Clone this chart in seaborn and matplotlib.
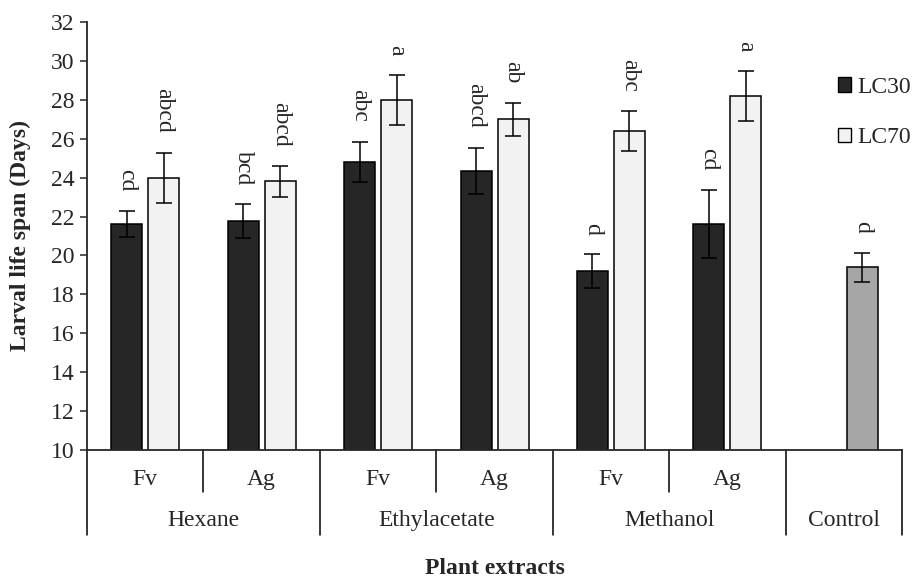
import matplotlib.pyplot as plt
import pandas as pd
import seaborn as sns
from matplotlib.patches import Patch

# Data
solvents = ['Hexane', 'Ethylacetate', 'Methanol']
plants = ['Fv', 'Ag']
lc30 = [21.6, 21.75, 24.8, 24.35, 19.2, 21.6]
lc30_err = [0.67, 0.87, 1.05, 1.19, 0.87, 1.75]
lc30_letters = ['cd', 'bcd', 'abc', 'abcd', 'd', 'cd']
lc70 = [24.0, 23.8, 28.0, 27.0, 26.4, 28.2]
lc70_err = [1.29, 0.79, 1.29, 0.84, 1.03, 1.28]
lc70_letters = ['abcd', 'abcd', 'a', 'ab', 'abc', 'a']
control = 19.4
control_err = 0.75
control_letter = 'd'

sns.set_style('ticks')
plt.rcParams.update({
    'font.family': 'Liberation Serif',
    'font.size': 17,
    'axes.linewidth': 1.3,
})

# Build long table
rows = []
cats = []
for s in solvents:
    for p in plants:
        cats.append(f'{s}|{p}')
i = 0
for c in cats:
    rows.append({'cat': c, 'series': 'LC30', 'value': lc30[i], 'err': lc30_err[i], 'lab': lc30_letters[i]})
    rows.append({'cat': c, 'series': 'LC70', 'value': lc70[i], 'err': lc70_err[i], 'lab': lc70_letters[i]})
    i += 1
cats.append('Control|')
rows.append({'cat': 'Control|', 'series': 'LC70', 'value': control, 'err': control_err, 'lab': control_letter})
df = pd.DataFrame(rows)

colors = {'LC30': '#262626', 'LC70': '#f2f2f2'}

fig = plt.figure(figsize=(9.14, 5.78), dpi=100)
ax = fig.add_axes([0.0952, 0.2215, 0.8917, 0.7405])

sns.barplot(data=df, x='cat', y='value', hue='series', order=cats,
            hue_order=['LC30', 'LC70'], palette=colors, width=0.636, gap=0.163,
            edgecolor='black', linewidth=1.1, errorbar=None, legend=False, ax=ax)

# error bars and letters, matched to the drawn bars
for patch in ax.patches:
    h = patch.get_height()
    if h <= 0:
        continue
    xc = patch.get_x() + patch.get_width() / 2
    ci = int(round(xc))
    series = 'LC30' if xc < ci else 'LC70'
    sel = df[(df['cat'] == cats[ci]) & (df['series'] == series)]
    if sel.empty:
        continue
    r = sel.iloc[0]
    if cats[ci].startswith('Control'):
        patch.set_facecolor('#a6a6a6')
    ax.errorbar(xc, r['value'], yerr=r['err'], fmt='none', ecolor='black',
                elinewidth=1.1, capsize=6, capthick=1.1)
    ax.annotate(r['lab'], (xc, r['value'] + r['err']), xytext=(0, 14),
                textcoords='offset points', rotation=270, ha='center', va='bottom')

ax.set_ylim(10, 32)
ax.set_yticks(range(10, 33, 2))
ax.set_xlim(-0.5, len(cats) - 0.5)
ax.set_xticks([])
ax.set_xlabel('')
ax.set_ylabel('')
sns.despine(ax=ax)
ax.tick_params(axis='y', length=5, width=1.1, pad=4)

# multi-level category axis
tr = ax.get_xaxis_transform()
lw = 1.1
for k, c in enumerate(cats):
    s, p = c.split('|')
    if p:
        ax.text(k, -0.068, p, transform=tr, ha='center', va='center')
for k in range(len(cats) + 1):
    x = k - 0.5
    tall = (k % 2 == 0) or k >= len(cats) - 1
    ax.plot([x, x], [0, -0.199 if tall else -0.098], transform=tr,
            color='black', lw=lw, clip_on=False)
for j, s in enumerate(solvents):
    ax.text(2 * j + 0.5, -0.164, s, transform=tr, ha='center', va='center')
ax.text(len(cats) - 1, -0.164, 'Control', transform=tr, ha='center', va='center')

ax.text(0.5, -0.276, 'Plant extracts', transform=ax.transAxes, ha='center',
        va='center', fontweight='bold')
ax.text(-0.082, 0.5, 'Larval life span (Days)', transform=ax.transAxes,
        rotation=90, ha='center', va='center', fontweight='bold')

handles = [Patch(facecolor=colors['LC30'], edgecolor='black', linewidth=1.0, label='LC30'),
           Patch(facecolor=colors['LC70'], edgecolor='black', linewidth=1.0, label='LC70')]
ax.legend(handles=handles, loc='upper left', bbox_to_anchor=(0.922, 0.872),
          frameon=False, handlelength=0.55, handleheight=0.55, handletextpad=0.25,
          labelspacing=1.25, borderpad=0, borderaxespad=0)

fig.savefig('out.png', dpi=100)
